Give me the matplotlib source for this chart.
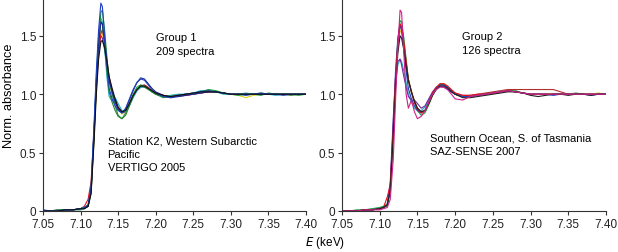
import matplotlib
matplotlib.use("Agg")
import matplotlib.pyplot as plt

plt.rcParams['font.family'] = ['Liberation Sans', 'DejaVu Sans']

energy = [7.05, 7.06, 7.07, 7.08, 7.09, 7.10, 7.105, 7.110, 7.114, 7.118,
          7.121, 7.124, 7.127, 7.129, 7.132, 7.135, 7.138, 7.142, 7.146, 7.150,
          7.155, 7.160, 7.165, 7.170, 7.175, 7.180, 7.185, 7.190, 7.195, 7.200,
          7.210, 7.220, 7.230, 7.240, 7.250, 7.260, 7.270, 7.280, 7.290, 7.300,
          7.310, 7.320, 7.330, 7.340, 7.350, 7.360, 7.370, 7.380, 7.390, 7.400]

# Group 1 representative spectra
g1_blue = [0.00,0.00,0.00,0.01,0.01,0.02,0.03,0.05,0.20,0.75,1.20,1.55,1.78,1.75,1.50,1.25,1.05,0.96,0.90,0.86,0.84,0.88,0.96,1.04,1.10,1.13,1.12,1.08,1.04,1.01,0.98,0.97,0.99,1.00,1.01,1.02,1.03,1.02,1.01,1.00,1.00,0.99,1.00,1.01,1.00,1.00,0.99,1.00,1.00,1.00]
g1_green = [0.00,0.00,0.01,0.01,0.01,0.02,0.03,0.04,0.15,0.65,1.10,1.45,1.70,1.72,1.55,1.32,1.12,1.00,0.90,0.82,0.79,0.84,0.92,1.00,1.06,1.08,1.07,1.05,1.02,1.00,0.97,0.98,0.99,1.00,1.00,1.02,1.04,1.03,1.01,1.00,0.99,1.00,1.00,0.99,1.01,1.00,1.00,1.00,0.99,1.00]
g1_red = [0.00,0.00,0.00,0.01,0.01,0.02,0.04,0.10,0.25,0.70,1.05,1.35,1.52,1.55,1.45,1.30,1.15,1.03,0.95,0.88,0.85,0.86,0.92,0.99,1.04,1.07,1.08,1.06,1.03,1.01,0.99,0.98,0.99,0.99,1.00,1.01,1.02,1.02,1.01,1.00,1.00,1.00,1.00,1.00,1.00,1.00,1.00,1.00,1.00,1.00]
g1_cyan = [0.00,0.00,0.00,0.01,0.01,0.01,0.02,0.04,0.18,0.70,1.15,1.50,1.65,1.62,1.40,1.15,0.98,0.94,0.97,0.92,0.86,0.85,0.90,0.97,1.03,1.06,1.06,1.05,1.02,1.00,0.98,0.99,1.00,1.00,1.01,1.03,1.03,1.02,1.00,1.00,1.00,1.01,1.00,1.00,1.00,0.99,1.00,1.00,1.00,1.00]
g1_purple = [0.00,0.00,0.01,0.01,0.01,0.02,0.03,0.05,0.20,0.70,1.10,1.38,1.50,1.48,1.38,1.25,1.12,1.02,0.94,0.88,0.84,0.85,0.91,0.98,1.03,1.06,1.07,1.05,1.03,1.01,0.99,0.98,0.98,0.99,1.00,1.01,1.02,1.02,1.01,1.00,1.00,1.00,1.00,1.00,1.00,1.00,1.00,1.00,1.00,1.00]
g1_yellow = [0.00,0.00,0.00,0.00,0.01,0.01,0.02,0.04,0.16,0.62,1.05,1.38,1.55,1.52,1.40,1.25,1.10,1.00,0.93,0.87,0.83,0.85,0.91,0.98,1.04,1.07,1.07,1.05,1.03,1.00,0.98,0.99,0.99,1.00,1.01,1.02,1.03,1.02,1.01,1.00,0.99,0.97,0.99,1.00,1.00,1.00,1.00,1.00,1.00,1.00]
g1_navy = [0.01,0.00,0.00,0.01,0.01,0.02,0.02,0.04,0.17,0.66,1.08,1.42,1.62,1.60,1.45,1.28,1.12,1.02,0.93,0.87,0.84,0.87,0.95,1.03,1.10,1.14,1.13,1.09,1.05,1.02,0.99,0.97,0.98,0.99,1.00,1.01,1.02,1.02,1.01,1.00,1.00,1.00,1.00,1.00,1.00,1.00,1.00,1.00,1.00,1.00]
g1_dkgreen = [0.00,0.00,0.00,0.01,0.01,0.02,0.03,0.05,0.18,0.68,1.12,1.45,1.62,1.60,1.42,1.20,1.02,0.93,0.86,0.81,0.79,0.82,0.90,0.98,1.04,1.07,1.06,1.04,1.02,1.00,0.98,0.98,0.99,1.00,1.00,1.02,1.03,1.02,1.01,1.00,1.00,1.00,1.00,1.01,1.00,1.00,1.00,0.99,1.00,1.00]
g1_black = [0.00,0.00,0.00,0.01,0.01,0.02,0.02,0.04,0.15,0.60,1.00,1.30,1.45,1.46,1.40,1.28,1.15,1.05,0.96,0.89,0.85,0.86,0.92,0.99,1.04,1.07,1.07,1.05,1.03,1.01,0.99,0.98,0.99,1.00,1.01,1.02,1.02,1.02,1.01,1.00,1.00,1.00,1.00,1.00,1.00,1.00,1.00,1.00,1.00,1.00]

# Group 2 representative spectra
g2_magenta = [0.00,0.00,0.00,0.01,0.01,0.01,0.02,0.03,0.10,0.45,0.95,1.40,1.72,1.70,1.35,1.00,0.88,0.95,0.85,0.79,0.81,0.86,0.93,1.00,1.04,1.06,1.06,1.04,1.00,0.96,0.95,0.98,0.99,1.00,1.01,1.02,1.03,1.02,1.01,1.00,1.00,1.00,1.00,1.00,1.00,1.00,1.00,1.00,1.00,1.00]
g2_red = [0.00,0.00,0.00,0.01,0.01,0.02,0.03,0.12,0.22,0.70,1.15,1.45,1.60,1.58,1.45,1.28,1.12,1.02,0.93,0.87,0.84,0.86,0.93,1.01,1.06,1.09,1.09,1.07,1.04,1.01,0.99,0.99,1.00,1.00,1.01,1.02,1.03,1.02,1.01,1.00,1.00,1.00,1.00,1.00,1.00,1.00,1.00,1.00,1.00,1.00]
g2_blue = [0.00,0.00,0.00,0.01,0.01,0.02,0.03,0.05,0.20,0.75,1.20,1.48,1.60,1.55,1.38,1.20,1.05,0.96,0.90,0.86,0.84,0.86,0.93,1.00,1.05,1.08,1.08,1.06,1.03,1.00,0.98,0.98,0.99,1.00,1.01,1.02,1.03,1.02,1.01,1.00,1.00,1.00,0.99,1.00,1.00,1.00,1.00,0.99,1.00,1.00]
g2_green = [0.00,0.00,0.01,0.01,0.02,0.03,0.04,0.06,0.18,0.66,1.10,1.45,1.63,1.62,1.48,1.30,1.13,1.02,0.93,0.86,0.82,0.84,0.91,0.99,1.05,1.08,1.08,1.06,1.03,1.00,0.98,0.98,0.99,1.00,1.01,1.02,1.03,1.03,1.01,1.00,1.00,1.00,1.00,1.00,1.00,1.01,1.00,1.00,1.00,1.00]
g2_cyan = [0.00,0.00,0.00,0.01,0.01,0.02,0.03,0.05,0.20,0.72,1.08,1.25,1.30,1.28,1.20,1.10,1.00,0.93,0.88,0.86,0.86,0.89,0.95,1.01,1.05,1.07,1.06,1.05,1.02,1.00,0.98,0.98,0.99,1.00,1.01,1.02,1.03,1.02,1.01,1.00,1.00,1.00,1.00,1.00,1.00,1.00,1.00,1.00,1.00,1.00]
g2_purple = [0.00,0.00,0.00,0.01,0.01,0.02,0.03,0.06,0.25,0.80,1.15,1.28,1.30,1.25,1.15,1.06,0.98,0.95,0.95,0.92,0.88,0.90,0.96,1.02,1.06,1.07,1.06,1.04,1.02,1.00,0.98,0.98,0.99,1.00,1.01,1.02,1.03,1.02,1.01,1.00,1.00,1.00,1.00,1.00,1.00,1.00,1.00,1.00,1.00,1.00]
g2_yellow = [0.00,0.00,0.00,0.01,0.01,0.02,0.03,0.04,0.15,0.60,1.05,1.40,1.55,1.52,1.42,1.28,1.13,1.03,0.94,0.88,0.84,0.85,0.91,0.99,1.05,1.09,1.09,1.07,1.03,1.00,0.98,0.98,0.99,1.00,1.01,1.02,1.03,1.02,1.01,1.00,1.00,1.00,1.00,1.00,1.00,1.00,1.00,1.00,1.01,1.00]
g2_brown = [0.00,0.00,0.00,0.01,0.01,0.02,0.03,0.05,0.18,0.68,1.10,1.42,1.58,1.56,1.42,1.26,1.12,1.02,0.94,0.88,0.85,0.86,0.92,1.00,1.05,1.08,1.08,1.06,1.03,1.01,0.99,0.99,1.00,1.01,1.02,1.03,1.04,1.04,1.04,1.04,1.04,1.04,1.04,1.02,1.00,1.00,1.00,1.00,1.00,1.00]
g2_black = [0.00,0.00,0.00,0.01,0.01,0.02,0.03,0.05,0.18,0.65,1.05,1.35,1.50,1.48,1.38,1.25,1.12,1.02,0.94,0.88,0.85,0.86,0.92,0.99,1.04,1.07,1.07,1.05,1.02,1.00,0.97,0.97,0.98,0.99,1.00,1.01,1.02,1.02,1.01,0.99,0.98,0.99,1.00,1.00,0.99,1.00,1.00,0.99,1.00,1.00]

group1 = [(g1_yellow, '#e0d818'), (g1_purple, '#7a2ca8'), (g1_red, '#e01020'),
          (g1_cyan, '#18b0c8'), (g1_green, '#1a9a3a'), (g1_dkgreen, '#2e7d32'),
          (g1_navy, '#1b2a90'), (g1_blue, '#2040c0'), (g1_black, '#111111')]
group2 = [(g2_yellow, '#d8d020'), (g2_brown, '#b03030'), (g2_cyan, '#18b0c8'),
          (g2_purple, '#6a2ca0'), (g2_green, '#1a9a3a'), (g2_blue, '#2040c0'),
          (g2_red, '#e01020'), (g2_black, '#202020'), (g2_magenta, '#d0208a')]

xticks = [7.05, 7.10, 7.15, 7.20, 7.25, 7.30, 7.35, 7.40]
xticklabels = ['7.05', '7.10', '7.15', '7.20', '7.25', '7.30', '7.35', '7.40']
yticks = [0, 0.5, 1.0, 1.5]
yticklabels = ['0', '0.5', '1.0', '1.5']

fig = plt.figure(figsize=(6.18, 2.53), dpi=100)
ax1 = fig.add_axes([43/618, 41/253, 263/618, 212/253])
ax2 = fig.add_axes([342/618, 41/253, 264/618, 212/253])

for ax, group in [(ax1, group1), (ax2, group2)]:
    for vals, col in group:
        ax.plot(energy, vals, color=col, lw=0.8)
    ax.set_xlim(7.05, 7.40)
    ax.set_ylim(0, 1.815)
    ax.set_xticks(xticks)
    ax.set_xticklabels(xticklabels)
    ax.set_yticks(yticks)
    ax.set_yticklabels(yticklabels)
    for s in ['top', 'right']:
        ax.spines[s].set_visible(False)
    for s in ['left', 'bottom']:
        ax.spines[s].set_color('#333333')
        ax.spines[s].set_linewidth(0.8)
    ax.tick_params(direction='out', length=3, width=0.8, labelsize=8.5,
                   colors='#333333', labelcolor='#222222', pad=2)

ax1.set_ylabel('Norm. absorbance', fontsize=9.2)
ax1.yaxis.set_label_coords(-0.108, 0.55)

ax1.text(7.200, 1.43, 'Group 1\n209 spectra', fontsize=8, va='center', ha='left', linespacing=1.45)
ax1.text(7.136, 0.49, 'Station K2, Western Subarctic\nPacific\nVERTIGO 2005', fontsize=8,
         va='center', ha='left', linespacing=1.45)
ax2.text(7.209, 1.44, 'Group 2\n126 spectra', fontsize=8, va='center', ha='left', linespacing=1.45)
ax2.text(7.167, 0.57, 'Southern Ocean, S. of Tasmania\nSAZ-SENSE 2007', fontsize=8,
         va='center', ha='left', linespacing=1.45)

fig.text(325/618, 1 - 243/253, '$E$ (keV)', fontsize=8.5, ha='center', va='center')

fig.savefig('out.png', dpi=100)
